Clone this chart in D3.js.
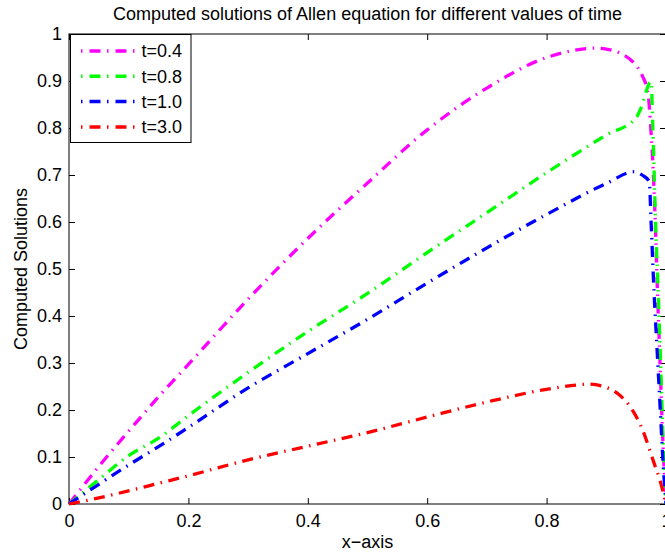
<!DOCTYPE html>
<html>
<head>
<meta charset="utf-8">
<script src="https://cdn.jsdelivr.net/npm/d3@7"></script>
<style>
  body { margin: 0; background: #fff; }
  text { font-family: "Liberation Sans", Arial, Helvetica, sans-serif; }
</style>
</head>
<body>
<svg id="chartSVG"></svg>
<script>
var chartWidth = 665
var chartHeight = 555
var chartMargin = { top: 34, left: 69, right: -1, bottom: 51 }

// t = 0.4
var xT04 = [0, 0.05, 0.1, 0.15, 0.2, 0.3, 0.4, 0.5, 0.6, 0.7, 0.8, 0.85, 0.88, 0.9, 0.92, 0.94, 0.95, 0.96, 0.97, 0.975, 0.978, 0.982, 0.986, 0.99, 0.994, 1]
var yT04 = [0, 0.08, 0.155, 0.228, 0.297, 0.436, 0.565, 0.683, 0.796, 0.885, 0.950, 0.966, 0.970, 0.968, 0.961, 0.946, 0.933, 0.912, 0.872, 0.79, 0.725, 0.60, 0.441, 0.30, 0.157, 0]
// t = 0.8
var xT08 = [0, 0.05, 0.1, 0.15, 0.2, 0.3, 0.4, 0.5, 0.6, 0.7, 0.8, 0.9, 0.95, 0.958, 0.975, 0.978, 0.983, 0.987, 0.992, 0.996, 1]
var yT08 = [0, 0.052, 0.103, 0.140, 0.188, 0.280, 0.367, 0.448, 0.535, 0.620, 0.705, 0.785, 0.822, 0.842, 0.899, 0.80, 0.58, 0.45, 0.26, 0.10, 0]
// t = 1.0
var xT10 = [0, 0.05, 0.1, 0.15, 0.2, 0.3, 0.4, 0.5, 0.6, 0.7, 0.8, 0.9, 0.947, 0.96, 0.972, 0.975, 0.98, 0.985, 0.99, 0.995, 1]
var yT10 = [0, 0.042, 0.083, 0.122, 0.163, 0.247, 0.320, 0.393, 0.470, 0.545, 0.616, 0.682, 0.707, 0.700, 0.686, 0.60, 0.45, 0.33, 0.21, 0.09, 0]
// t = 3.0
var xT30 = [0, 0.05, 0.1, 0.15, 0.2, 0.3, 0.4, 0.5, 0.6, 0.7, 0.8, 0.85, 0.87, 0.9, 0.92, 0.94, 0.96, 0.98, 0.99, 1]
var yT30 = [0, 0.013, 0.028, 0.044, 0.060, 0.094, 0.123, 0.152, 0.185, 0.217, 0.244, 0.253, 0.255, 0.248, 0.234, 0.207, 0.160, 0.087, 0.05, 0]

var seriesNames = ['t=0.4', 't=0.8', 't=1.0', 't=3.0']
var seriesColors = ['#ff00ff', '#00ff00', '#0000ff', '#ff0000']
var seriesX = [xT04, xT08, xT10, xT30]
var seriesY = [yT04, yT08, yT10, yT30]

var xTicks = [0, 0.2, 0.4, 0.6, 0.8, 1]
var yTicks = [0, 0.1, 0.2, 0.3, 0.4, 0.5, 0.6, 0.7, 0.8, 0.9, 1]

var innerWidth = chartWidth - chartMargin.left - chartMargin.right
var innerHeight = chartHeight - chartMargin.top - chartMargin.bottom

var svg = d3.select('#chartSVG')
    .attr('width', chartWidth)
    .attr('height', chartHeight)
svg.append('rect').attr('width', chartWidth).attr('height', chartHeight).attr('fill', '#fff')

var layer = svg.append('g')
    .attr('transform', 'translate(' + chartMargin.left + ', ' + chartMargin.top + ')')

var xScale = d3.scaleLinear().domain([0, 1]).range([0, innerWidth])
var yScale = d3.scaleLinear().domain([0, 1]).range([innerHeight, 0])

var fmt = function (d) { return d === 0 || d === 1 ? String(d) : d3.format('.1f')(d) }

// axes, MATLAB style with ticks pointing inward
layer.append('g')
    .attr('transform', 'translate(0, ' + innerHeight + ')')
    .call(d3.axisBottom(xScale).tickValues(xTicks).tickFormat(fmt).tickSizeInner(-6).tickSizeOuter(0).tickPadding(10))
layer.append('g')
    .call(d3.axisLeft(yScale).tickValues(yTicks).tickFormat(fmt).tickSizeInner(-6).tickSizeOuter(0).tickPadding(7))
var topAxis = layer.append('g')
    .call(d3.axisTop(xScale).tickValues(xTicks).tickSizeInner(-6).tickSizeOuter(0))
var rightAxis = layer.append('g')
    .attr('transform', 'translate(' + innerWidth + ', 0)')
    .call(d3.axisRight(yScale).tickValues(yTicks).tickSizeInner(-6).tickSizeOuter(0))
topAxis.selectAll('text').remove()
rightAxis.selectAll('text').remove()
layer.selectAll('.domain').remove()
layer.selectAll('.tick line').attr('stroke', '#000')
layer.selectAll('.tick text')
    .attr('fill', '#000')
    .style('font-size', '18px')
    .style('font-family', '"Liberation Sans", Arial, sans-serif')

layer.append('rect')
    .attr('x', 0).attr('y', 0)
    .attr('width', innerWidth).attr('height', innerHeight)
    .attr('fill', 'none').attr('stroke', '#000').attr('stroke-width', 1)

var line = d3.line()
    .x(function (d) { return xScale(d[0]) })
    .y(function (d) { return yScale(d[1]) })
    .curve(d3.curveMonotoneX)

for (var i = 0; i < seriesNames.length; i++) {
    var pts = seriesX[i].map(function (x, j) { return [x, seriesY[i][j]] })
    layer.append('path')
        .datum(pts)
        .attr('d', line)
        .attr('fill', 'none')
        .attr('stroke', seriesColors[i])
        .attr('stroke-width', 3.3)
        .attr('stroke-dasharray', '11 6.5 1.5 6.5')
}

// legend
var legend = svg.append('g')
legend.append('rect')
    .attr('x', 70.5).attr('y', 34.5)
    .attr('width', 120.5).attr('height', 108)
    .attr('fill', '#fff').attr('stroke', '#000').attr('stroke-width', 1)
for (var k = 0; k < seriesNames.length; k++) {
    var ly = 51 + k * 25.3
    legend.append('line')
        .attr('x1', 81).attr('x2', 135)
        .attr('y1', ly).attr('y2', ly)
        .attr('stroke', seriesColors[k])
        .attr('stroke-width', 3.5)
        .attr('stroke-dasharray', '1.5 7 11 6.5')
    legend.append('text')
        .attr('x', 141.5).attr('y', ly)
        .attr('dy', '0.36em')
        .style('font-size', '18px')
        .text(seriesNames[k])
}

svg.append('text')
    .attr('x', chartMargin.left + innerWidth / 2)
    .attr('y', 20)
    .attr('text-anchor', 'middle')
    .style('font-size', '18px')
    .text('Computed solutions of Allen equation for different values of time')

svg.append('text')
    .attr('x', chartMargin.left + innerWidth / 2)
    .attr('y', 548)
    .attr('text-anchor', 'middle')
    .style('font-size', '18px')
    .text('x\u2212axis')

svg.append('text')
    .attr('transform', 'translate(27, ' + (chartMargin.top + innerHeight / 2) + ') rotate(-90)')
    .attr('text-anchor', 'middle')
    .style('font-size', '18px')
    .text('Computed Solutions')
</script>
</body>
</html>
